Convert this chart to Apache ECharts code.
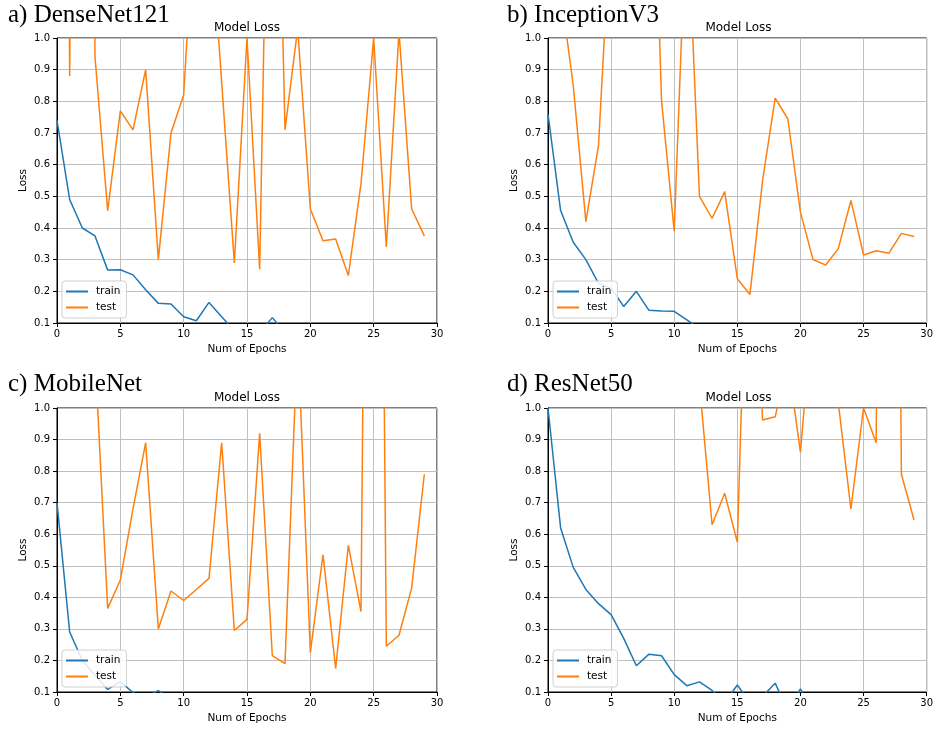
<!DOCTYPE html>
<html>
<head>
<meta charset="utf-8">
<script src="https://cdn.jsdelivr.net/npm/echarts@6/dist/echarts.min.js"></script>
<style>html,body{margin:0;padding:0;background:#fff;}#chart{width:936px;height:731px;}</style>
</head>
<body>
<div id="chart"></div>
<script>
// Epoch index 0..29
const epochs = [0,1,2,3,4,5,6,7,8,9,10,11,12,13,14,15,16,17,18,19,20,21,22,23,24,25,26,27,28,29];
const xTicks = [0,5,10,15,20,25,30];
const yTicks = [0.1,0.2,0.3,0.4,0.5,0.6,0.7,0.8,0.9,1.0];
const panelLabels = ['a) DenseNet121','b) InceptionV3','c) MobileNet','d) ResNet50'];
const panelTitle = 'Model Loss';
const seriesNames = ['train','test'];

// a) DenseNet121
const denseTrain = [0.74,0.49,0.40,0.375,0.267,0.268,0.252,0.205,0.162,0.16,0.12,0.107,0.165,0.12,0.075,0.07,0.07,0.117,0.07,0.065,0.06,0.058,0.055,0.05,0.052,0.048,0.045,0.047,0.043,0.04];
const denseTest  = [8.0,0.88,6.0,0.94,0.455,0.77,0.71,0.90,0.30,0.70,0.82,1.5,1.44,0.86,0.29,1.0,0.27,2.45,0.71,1.03,0.46,0.36,0.365,0.25,0.54,1.0,0.34,1.02,0.46,0.375];
// b) InceptionV3
const incTrain = [0.76,0.455,0.355,0.30,0.225,0.21,0.152,0.20,0.14,0.138,0.137,0.11,0.083,0.08,0.075,0.07,0.068,0.065,0.06,0.058,0.055,0.053,0.05,0.048,0.046,0.045,0.043,0.042,0.04,0.038];
const incTest  = [1.8,1.15,0.85,0.42,0.66,1.4,2.0,1.8,2.05,0.80,0.39,1.45,0.50,0.43,0.515,0.24,0.19,0.55,0.81,0.745,0.45,0.30,0.283,0.335,0.487,0.315,0.328,0.32,0.383,0.373];
// c) MobileNet
const mobTrain = [0.70,0.29,0.20,0.153,0.108,0.133,0.098,0.085,0.104,0.08,0.075,0.07,0.068,0.065,0.06,0.058,0.055,0.055,0.05,0.048,0.047,0.045,0.043,0.042,0.04,0.04,0.038,0.037,0.036,0.035];
const mobTest  = [3.0,2.5,2.0,1.17,0.365,0.455,0.68,0.89,0.30,0.42,0.39,0.425,0.46,0.89,0.295,0.33,0.92,0.215,0.19,1.24,0.225,0.535,0.175,0.565,0.355,5.0,0.245,0.28,0.43,0.79];
// d) ResNet50
const resTrain = [1.0,0.62,0.495,0.425,0.38,0.345,0.27,0.183,0.22,0.215,0.155,0.12,0.132,0.105,0.067,0.122,0.067,0.086,0.128,0.04,0.11,0.043,0.04,0.038,0.036,0.035,0.034,0.033,0.032,0.03];
const resTest  = [5.0,4.0,3.5,3.0,2.8,2.5,2.2,2.0,1.9,1.8,1.6,1.3,1.076,0.63,0.73,0.575,1.9,0.962,0.972,1.15,0.86,1.33,1.5,1.017,0.68,1.0,0.89,6.0,0.79,0.645];

const trainSets = [denseTrain, incTrain, mobTrain, resTrain];
const testSets = [denseTest, incTest, mobTest, resTest];

const TRAIN_COLOR = '#1f77b4';
const TEST_COLOR = '#ff7f0e';
const SANS = 'DejaVu Sans';

const grids = [
  {left: 57, top: 38, width: 380, height: 285},
  {left: 548, top: 38, width: 381, height: 285},
  {left: 57, top: 408, width: 380, height: 284},
  {left: 548, top: 408, width: 381, height: 284}
];
const labelPos = [
  {left: 8, top: 3},
  {left: 507, top: 3},
  {left: 8, top: 372},
  {left: 507, top: 372}
];

const option = {
  backgroundColor: '#fff',
  animation: false,
  title: [],
  grid: [],
  xAxis: [],
  yAxis: [],
  legend: [],
  series: []
};

grids.forEach((g, i) => {
  option.grid.push(Object.assign({show: true, borderColor: '#000', borderWidth: 1, backgroundColor: 'transparent', containLabel: false}, g));
  option.title.push({
    text: panelLabels[i], left: labelPos[i].left, top: labelPos[i].top, padding: 0,
    textStyle: {fontFamily: 'Liberation Serif', fontSize: 25, fontWeight: 'normal', color: '#000'}
  });
  option.title.push({
    text: panelTitle, left: g.left + g.width / 2, textAlign: 'center', top: g.top - 16, padding: 0,
    textStyle: {fontFamily: SANS, fontSize: 12, fontWeight: 'normal', color: '#000'}
  });
  option.xAxis.push({
    type: 'value', gridIndex: i, min: 0, max: 30, interval: 5,
    name: 'Num of Epochs', nameLocation: 'middle', nameGap: 21,
    nameTextStyle: {fontFamily: SANS, fontSize: 10.5, color: '#000'},
    axisLine: {show: true, lineStyle: {color: '#000', width: 1}},
    axisTick: {show: true, length: 4, lineStyle: {color: '#000'}},
    axisLabel: {fontFamily: SANS, fontSize: 10, color: '#000', margin: 6,
      formatter: v => (xTicks.indexOf(v) >= 0 ? String(v) : '')},
    splitLine: {show: true, lineStyle: {color: '#c0c0c0', width: 1}}
  });
  option.yAxis.push({
    type: 'value', gridIndex: i, min: 0.1, max: 1.0, interval: 0.1,
    name: 'Loss', nameLocation: 'middle', nameGap: 28,
    nameTextStyle: {fontFamily: SANS, fontSize: 10.5, color: '#000'},
    axisLine: {show: true, lineStyle: {color: '#000', width: 1}},
    axisTick: {show: true, length: 4, lineStyle: {color: '#000'}},
    axisLabel: {fontFamily: SANS, fontSize: 10, color: '#000', margin: 7,
      formatter: v => Number(v).toFixed(1)},
    splitLine: {show: true, lineStyle: {color: '#c0c0c0', width: 1}}
  });
  option.series.push({
    name: seriesNames[0], type: 'line', xAxisIndex: i, yAxisIndex: i,
    data: epochs.map((e, k) => [e, trainSets[i][k]]),
    symbol: 'none', clip: true, z: 3,
    lineStyle: {color: TRAIN_COLOR, width: 1.5}, itemStyle: {color: TRAIN_COLOR}
  });
  option.series.push({
    name: seriesNames[1], type: 'line', xAxisIndex: i, yAxisIndex: i,
    data: epochs.map((e, k) => [e, testSets[i][k]]),
    symbol: 'none', clip: true, z: 4,
    lineStyle: {color: TEST_COLOR, width: 1.5}, itemStyle: {color: TEST_COLOR}
  });
  option.legend.push({
    data: seriesNames.map(n => ({name: n, icon: 'rect'})),
    orient: 'vertical', left: g.left + 5, top: g.top + g.height - 42,
    itemWidth: 22, itemHeight: 2, itemGap: 5,
    padding: [5, 6, 5, 4], backgroundColor: 'rgba(255,255,255,0.85)',
    borderColor: '#d0d0d0', borderWidth: 1, borderRadius: 3,
    selectedMode: false, z: 10,
    textStyle: {fontFamily: SANS, fontSize: 10.5, color: '#000', padding: [0, 0, 0, 3]}
  });
});

const chart = echarts.init(document.getElementById('chart'), null, {renderer: 'canvas'});
chart.setOption(option);
</script>
</body>
</html>
